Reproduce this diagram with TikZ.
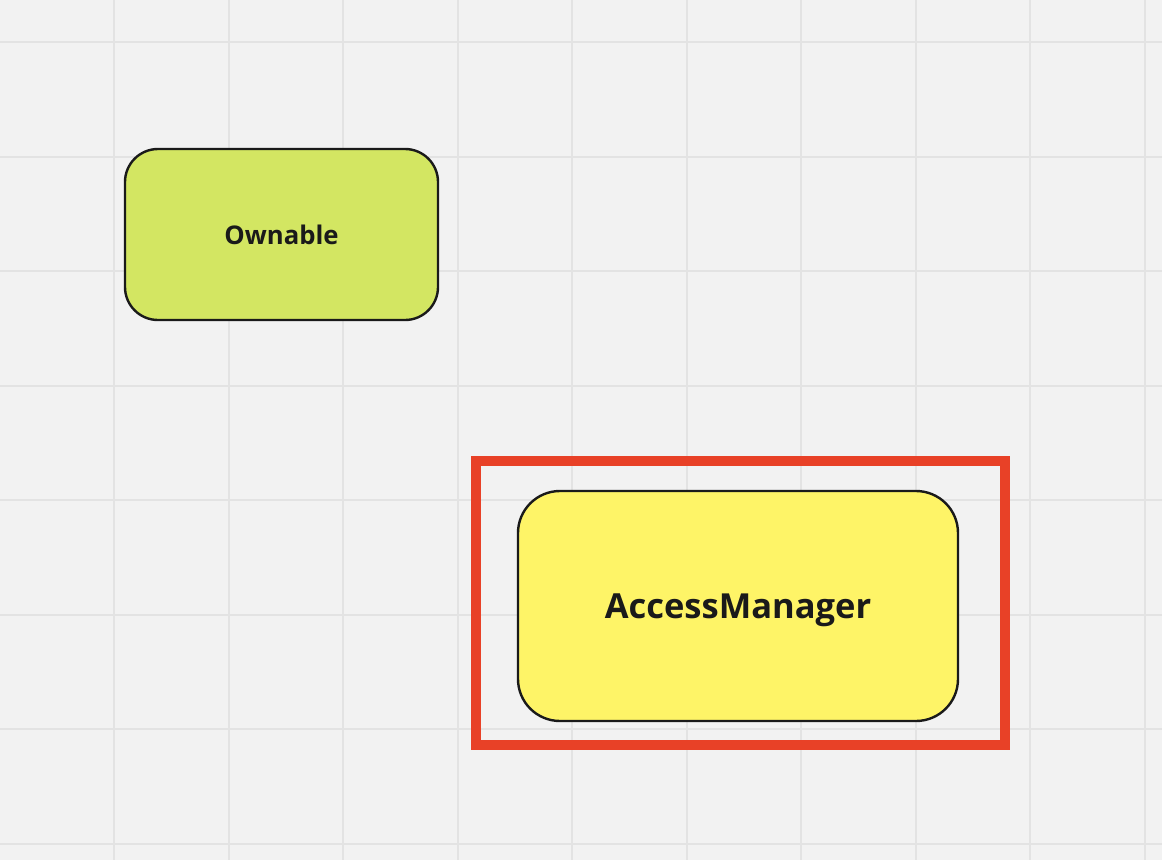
\documentclass[tikz,border=0pt]{standalone}
\usepackage{fontspec}
\setmainfont{Open Sans}
\definecolor{canvas}{HTML}{F2F2F2}
\definecolor{gridgray}{HTML}{E3E3E3}
\definecolor{ink}{HTML}{1A1A1A}
\definecolor{limefill}{HTML}{D3E662}
\definecolor{yellowfill}{HTML}{FEF467}
\definecolor{framered}{HTML}{E84127}
\tikzset{
  classbox/.style={draw=ink,line width=2.4pt,text=ink,font=\bfseries,align=center,inner sep=0pt,text depth=0pt},
}

\begin{document}
\begin{tikzpicture}[x=1pt,y=-1pt]
                \fill[canvas] (0,0) rectangle (1162,860);
                \useasboundingbox (0,0) rectangle (1162,860);
                \foreach \gx in {114,228.5,343,457.5,572,686.5,801,915.5,1030,1144.5}
                    \draw[gridgray,line width=2pt] (\gx,0)--(\gx,860);
                \foreach \gy in {42,157,271,386,500,615,729,844}
                    \draw[gridgray,line width=2pt] (0,\gy)--(1162,\gy);
                \node[classbox,fill=limefill,rounded corners=33pt,minimum width=313pt,minimum height=171pt,font=\bfseries\fontsize{25.7}{30}\selectfont] (ownable) at (281.5,234.5) {Ownable};
                \node[classbox,fill=yellowfill,rounded corners=42pt,minimum width=440pt,minimum height=230pt,font=\bfseries\fontsize{34.5}{40}\selectfont] (accessmgr) at (738,606) {AccessManager};
                \draw[framered,line width=10pt] (476,461) rectangle (1005,745);
            \end{tikzpicture}
\end{document}
